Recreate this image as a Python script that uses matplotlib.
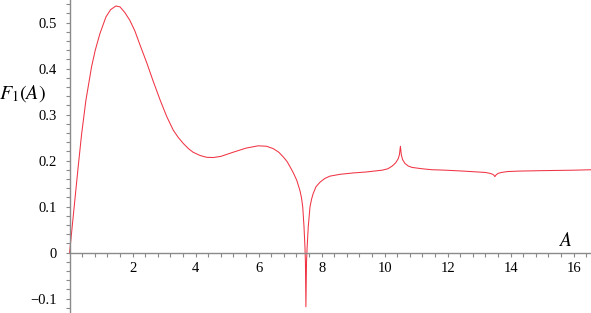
import matplotlib
matplotlib.use("Agg")
import matplotlib.pyplot as plt
from matplotlib.ticker import MultipleLocator, FixedLocator, FuncFormatter

# values
a_vals = [0, 0.062, 0.179, 0.274, 0.38, 0.517, 0.697, 0.814, 0.962, 1.152, 1.3,
          1.47, 1.6, 1.75, 1.91, 2.07, 2.23, 2.44, 2.65, 2.87, 3.08, 3.29, 3.45,
          3.61, 3.77, 3.92, 4.14, 4.35, 4.56, 4.8, 5.19, 5.6, 5.99, 6.25, 6.46,
          6.64, 6.78, 6.9, 7.0, 7.11, 7.21, 7.31, 7.36, 7.40, 7.44, 7.47, 7.485,
          7.5, 7.52, 7.54, 7.575, 7.63, 7.68, 7.73, 7.82, 7.95, 8.1, 8.26, 8.58,
          9.0, 9.4, 9.92, 10.1, 10.24, 10.35, 10.43, 10.47, 10.5, 10.53, 10.57,
          10.64, 10.75, 10.87, 11.2, 11.5, 11.93, 12.5, 12.98, 13.2, 13.35, 13.43,
          13.47, 13.5, 13.54, 13.6, 13.7, 13.9, 14.25, 15.0, 16.0, 16.6]
f1_vals = [0, 0.043, 0.123, 0.188, 0.257, 0.331, 0.404, 0.440, 0.476, 0.512,
           0.528, 0.536, 0.534, 0.522, 0.505, 0.482, 0.452, 0.414, 0.373, 0.332,
           0.296, 0.266, 0.250, 0.237, 0.226, 0.218, 0.211, 0.207, 0.2065, 0.209,
           0.218, 0.227, 0.232, 0.231, 0.226, 0.218, 0.208, 0.198, 0.186, 0.172,
           0.157, 0.135, 0.119, 0.099, 0.056, 0.012, -0.02, -0.118, -0.02, 0.012,
           0.056, 0.099, 0.116, 0.128, 0.143, 0.153, 0.161, 0.166, 0.170, 0.173,
           0.175, 0.179, 0.182, 0.188, 0.195, 0.204, 0.213, 0.231, 0.212, 0.202,
           0.194, 0.188, 0.185, 0.182, 0.180, 0.179, 0.177, 0.175, 0.174, 0.172,
           0.170, 0.168, 0.165, 0.169, 0.172, 0.174, 0.176, 0.177, 0.178, 0.179,
           0.180]

x_ticks = [2, 4, 6, 8, 10, 12, 14, 16]
x_minor = [0.4 * i for i in range(1, 42)]
y_ticks = [-0.1, 0, 0.1, 0.2, 0.3, 0.4, 0.5]

plt.rcParams['font.family'] = ['Liberation Serif', 'DejaVu Serif']
plt.rcParams['mathtext.fontset'] = 'stix'

fig = plt.figure(figsize=(5.91, 3.13), dpi=100)
ax = fig.add_axes([0, 0, 1, 1])
ax.plot(a_vals, f1_vals, color='#f03444', lw=0.75)

ax.set_xlim(-2.21, 16.55)
ax.set_ylim(-0.1315, 0.549)

grey = '#8a8a8a'
for s in ['top', 'right']:
    ax.spines[s].set_visible(False)
ax.spines['left'].set_position(('data', 0))
ax.spines['bottom'].set_position(('data', 0))
ax.spines['bottom'].set_bounds(0, 16.55)
ax.spines['left'].set_color(grey)
ax.spines['bottom'].set_color(grey)
ax.spines['left'].set_linewidth(1.0)
ax.spines['bottom'].set_linewidth(1.0)

ax.xaxis.set_major_locator(FixedLocator(x_ticks))
ax.xaxis.set_minor_locator(FixedLocator(x_minor))
ax.yaxis.set_major_locator(FixedLocator(y_ticks))
ax.yaxis.set_minor_locator(MultipleLocator(0.02))
ax.yaxis.set_major_formatter(FuncFormatter(lambda v, p: '0' if abs(v) < 1e-9 else ('%.1f' % v).replace('-', '\u2212')))
ax.tick_params(which='both', direction='out', length=3, width=0.8, color=grey,
               labelsize=10.5, labelcolor='black')
ax.tick_params(axis='x', pad=4)
ax.tick_params(axis='y', pad=6)

ax.text(-1.5, 0.345, r'$F_1(A)$', fontsize=14.5, ha='center', va='center')
ax.text(15.72, 0.026, r'$A$', fontsize=14, ha='center', va='center')

fig.savefig('out.png', dpi=100)
